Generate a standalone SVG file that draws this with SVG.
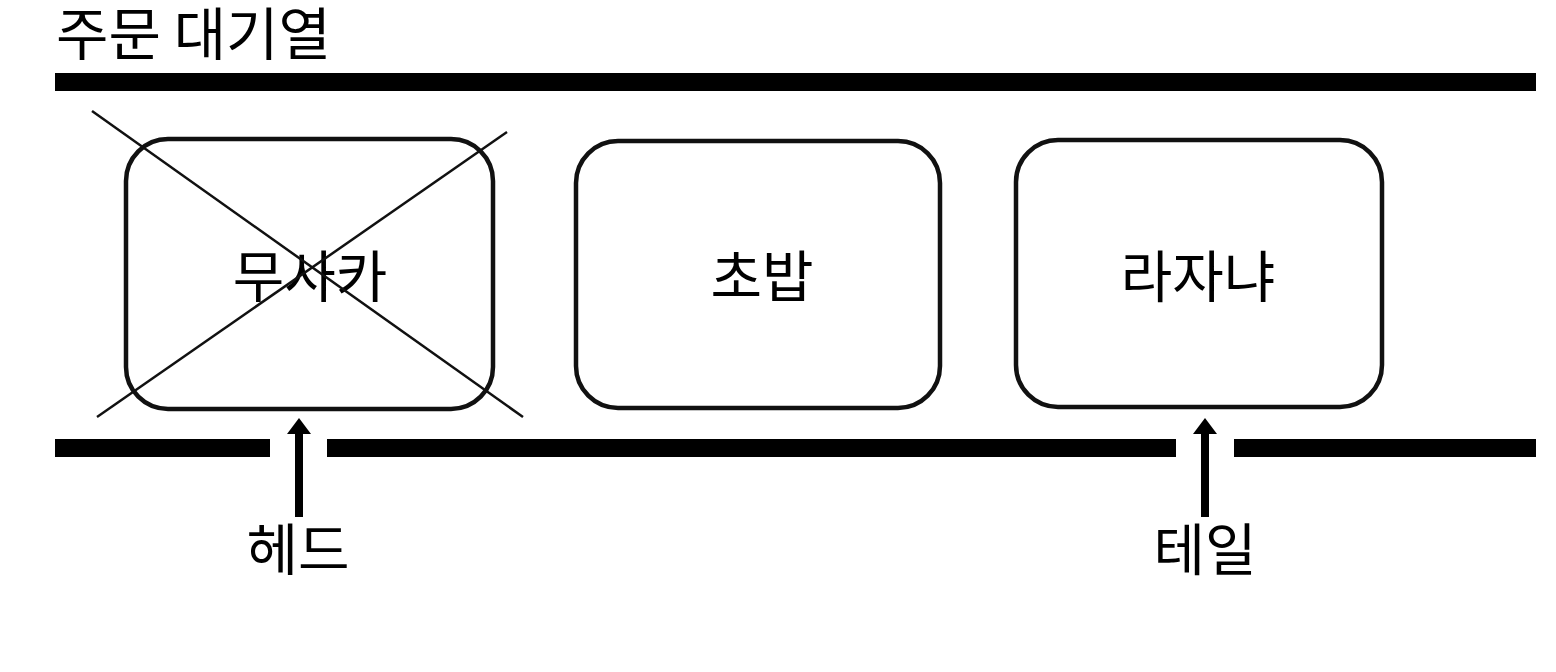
<svg xmlns="http://www.w3.org/2000/svg" width="1556" height="672" viewBox="0 0 1556 672">
<style>
.t{font-family:"Noto Sans CJK KR","Noto Sans",sans-serif;font-size:56px;fill:#000}
.box{fill:#fff;stroke:#111;stroke-width:4.5}
.bar{fill:#000}
.x{stroke:#111;stroke-width:2.5}
.arrow{stroke:#000;stroke-width:8}
.head{fill:#000}
</style>
<rect width="1556" height="672" fill="#fff"/>
<text class="t" x="56" y="55" style="font-size:57px">주문 대기열</text>
<g id="walls">
<rect class="bar" x="55" y="73" width="1481" height="18"/>
<rect class="bar" x="55" y="439" width="215" height="18"/>
<rect class="bar" x="327" y="439" width="849" height="18"/>
<rect class="bar" x="1234" y="439" width="302" height="18"/>
</g>
<g id="node-musaka">
<rect class="box" x="126" y="139" width="367" height="270" rx="42"/>
<text class="t" x="310" y="297" text-anchor="middle">무사카</text>
<line class="x" x1="92" y1="111" x2="523" y2="417"/>
<line class="x" x1="507" y1="132" x2="97" y2="417"/>
</g>
<g id="node-chobap">
<rect class="box" x="576" y="141" width="364" height="267" rx="42"/>
<text class="t" x="762" y="297" text-anchor="middle">초밥</text>
</g>
<g id="node-lasagna">
<rect class="box" x="1016" y="140" width="366" height="267" rx="42"/>
<text class="t" x="1198" y="297" text-anchor="middle">라자냐</text>
</g>
<g id="connectors">
<line class="arrow" x1="299" y1="517" x2="299" y2="430"/>
<polygon class="head" points="299,418 311,434 287,434"/>
<line class="arrow" x1="1205" y1="517" x2="1205" y2="430"/>
<polygon class="head" points="1205,418 1217,434 1193,434"/>
</g>
<g id="labels">
<text class="t" x="298" y="570" text-anchor="middle">헤드</text>
<text class="t" x="1205" y="570" text-anchor="middle">테일</text>
</g>
</svg>
